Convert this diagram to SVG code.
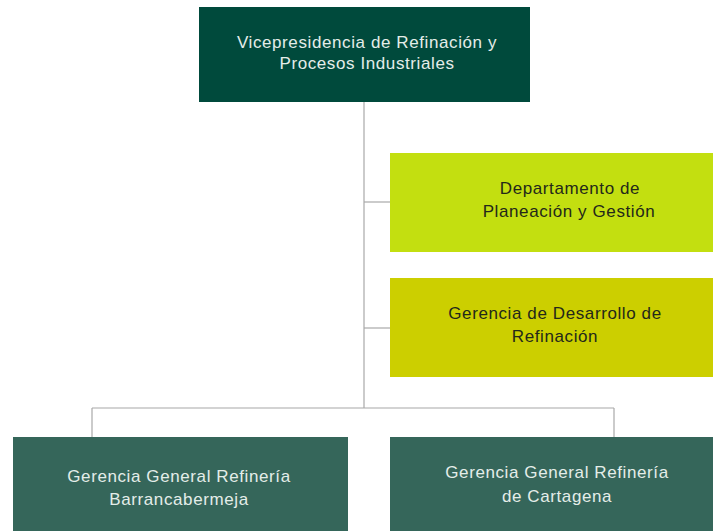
<svg xmlns="http://www.w3.org/2000/svg" width="713" height="531" viewBox="0 0 713 531">
  <style>
    .lbl { font-family: "Liberation Sans", Arial, sans-serif; font-size: 17px; letter-spacing: 0.6px; text-anchor: middle; }
    .light { fill: #e4ede9; }
    .dark { fill: #23281a; }
    .conn { stroke: #a8a8a8; stroke-width: 1.2; fill: none; }
  </style>
  <rect width="713" height="531" fill="#ffffff"/>
  <g id="connectors">
    <line class="conn" x1="364" y1="101" x2="364" y2="408"/>
    <line class="conn" x1="364" y1="202" x2="390" y2="202"/>
    <line class="conn" x1="364" y1="328" x2="390" y2="328"/>
    <line class="conn" x1="92" y1="408" x2="614" y2="408"/>
    <line class="conn" x1="92" y1="408" x2="92" y2="437"/>
    <line class="conn" x1="614" y1="408" x2="614" y2="437"/>
  </g>
  <g id="vp">
    <rect x="199" y="7" width="331" height="95" fill="#004a3c"/>
    <text class="lbl light" x="367" y="48">Vicepresidencia de Refinación y</text>
    <text class="lbl light" x="367" y="69">Procesos Industriales</text>
  </g>
  <g id="planeacion">
    <rect x="390" y="153" width="323" height="99" fill="#c3df10"/>
    <text class="lbl dark" x="570" y="194">Departamento de</text>
    <text class="lbl dark" x="569" y="217">Planeación y Gestión</text>
  </g>
  <g id="desarrollo">
    <rect x="390" y="278" width="323" height="99" fill="#cccf00"/>
    <text class="lbl dark" x="555" y="319">Gerencia de Desarrollo de</text>
    <text class="lbl dark" x="555" y="342">Refinación</text>
  </g>
  <g id="barrancabermeja">
    <rect x="13" y="437" width="335" height="94" fill="#35665a"/>
    <text class="lbl light" x="179" y="482">Gerencia General Refinería</text>
    <text class="lbl light" x="179" y="505">Barrancabermeja</text>
  </g>
  <g id="cartagena">
    <rect x="390" y="437" width="323" height="94" fill="#35665a"/>
    <text class="lbl light" x="557" y="478">Gerencia General Refinería</text>
    <text class="lbl light" x="557" y="502">de Cartagena</text>
  </g>
</svg>
